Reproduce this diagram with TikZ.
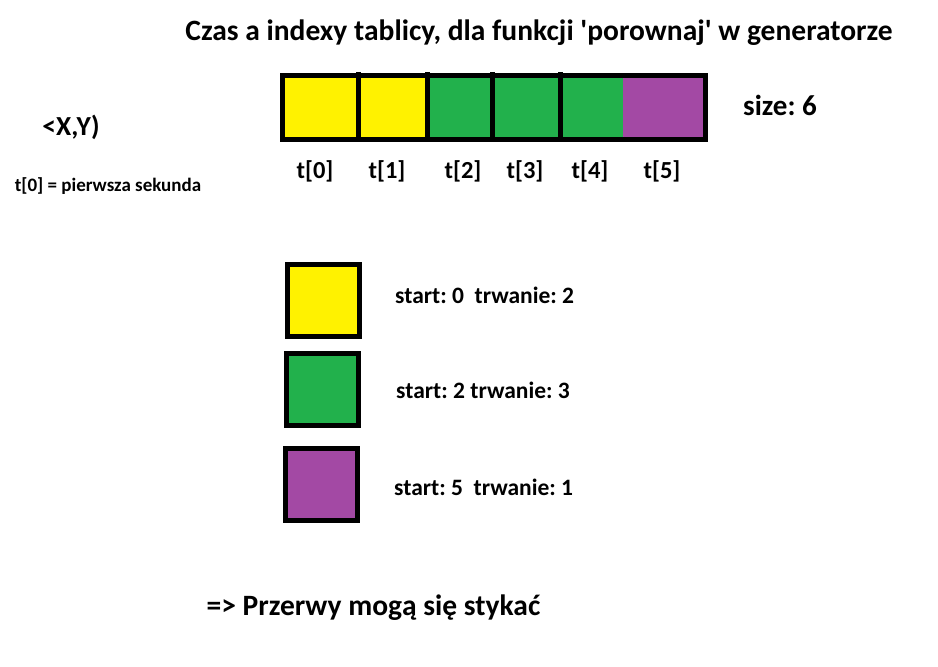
\documentclass[tikz,border=0pt]{standalone}
\usepackage{fontspec}
\setmainfont{Carlito}
\usetikzlibrary{positioning}
\frenchspacing

\definecolor{paintyellow}{HTML}{FFF200}
\definecolor{paintgreen}{HTML}{22B14C}
\definecolor{paintpurple}{HTML}{A349A4}

\newcommand{\fsz}[1]{\fontsize{#1}{#1}\selectfont\bfseries}

\tikzset{
  slot/.style={line width=5pt, black},
  legendbox/.style={draw=black, line width=5pt, minimum size=72pt, inner sep=0pt},
  idxlabel/.style={font=\fsz{24.5}, anchor=base, inner sep=0pt},
  legendtext/.style={font=\fsz{23.5}, anchor=west, inner sep=0pt}
}

\begin{document}
\begin{tikzpicture}[x=1pt, y=-1pt]
  \useasboundingbox (0,0) rectangle (938,667);

  % ---------- Title ----------
  \node[font=\fsz{29.5}, inner sep=0pt] (title) at (539,33)
    {Czas a indexy tablicy, dla funkcji \textquotesingle porownaj\textquotesingle\ w generatorze};

  % ---------- Left notes ----------
  \node[font=\fsz{27.5}, inner sep=0pt] (range) at (71,127) {<X,Y)};
  \node[font=\fsz{19}, inner sep=0pt] (note) at (108,186) {t[0] = pierwsza sekunda};

  % ---------- Array ----------
  \fill[paintyellow] (282,75) rectangle (427,139);
  \fill[paintgreen]  (427,75) rectangle (623,139);
  \fill[paintpurple] (623,75) rectangle (705,139);
  \draw[slot] (282,75) rectangle (705,139);
  \foreach \x in {358,427,492,560}
    \draw[slot] (\x,72) -- (\x,142);

  \foreach \i/\x in {0/315, 1/387, 2/463, 3/525, 4/590, 5/662}
    \node[idxlabel] (t\i) at (\x,178) {t[\i]};

  \node[font=\fsz{29}, inner sep=0pt] (size) at (780,105) {size: 6};

  % ---------- Legend ----------
  \node[legendbox, fill=paintyellow] (boxA) at (323.5,300) {};
  \node[legendbox, fill=paintgreen]  (boxB) at (322.5,389) {};
  \node[legendbox, fill=paintpurple] (boxC) at (321.5,484.5) {};

  \node[legendtext] (txtA) at (395,295) {start: 0~~trwanie: 2};
  \node[legendtext] (txtB) at (396,390) {start: 2 trwanie: 3};
  \node[legendtext] (txtC) at (394,487) {start: 5~~trwanie: 1};

  % ---------- Conclusion ----------
  \node[font=\fsz{29.5}, inner sep=0pt] (concl) at (373.5,608) {=> Przerwy mogą się stykać};

\end{tikzpicture}
\end{document}
